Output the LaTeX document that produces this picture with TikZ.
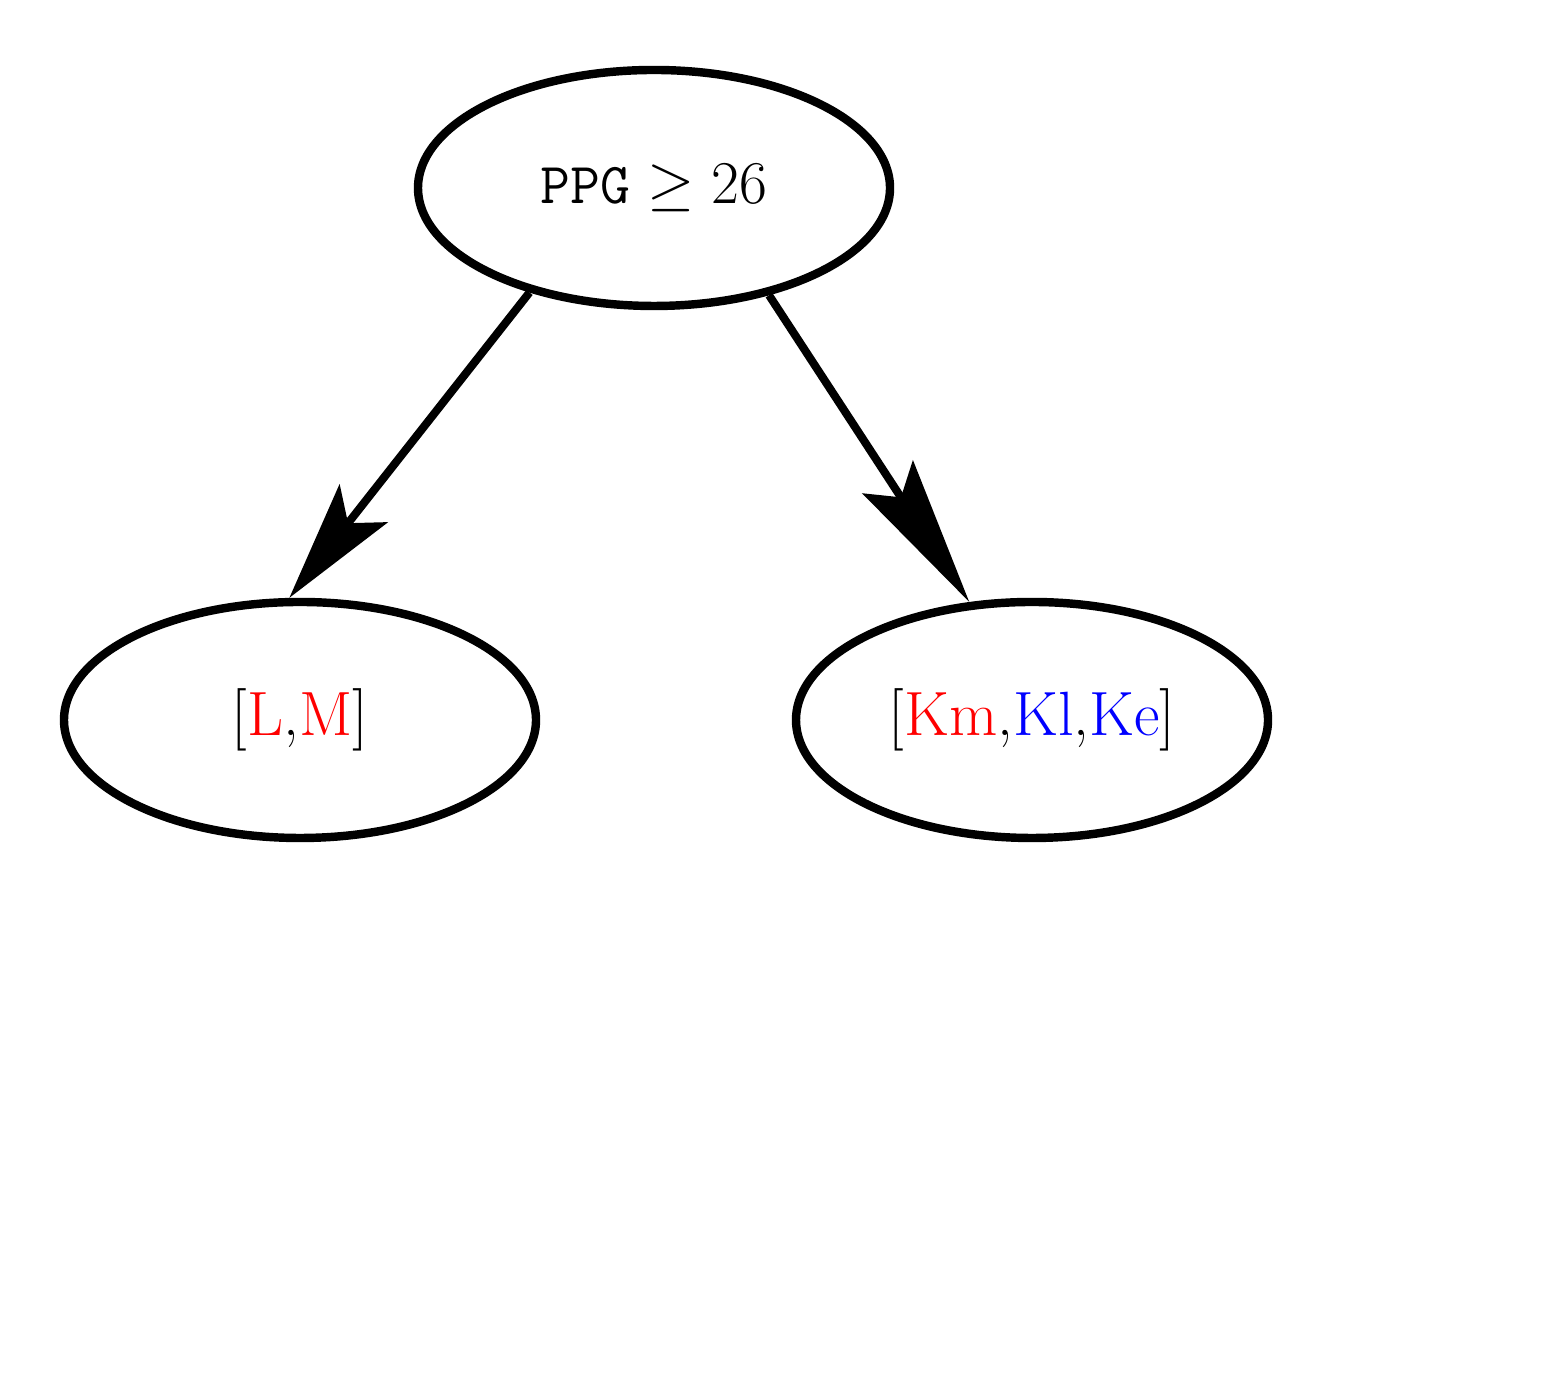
\documentclass[tikz,border=0pt]{standalone}
\usepackage{amsmath,amssymb}
\usepackage{xcolor}
\usetikzlibrary{arrows.meta,shapes.geometric}

\tikzset{
  split/.style={ellipse,draw,line width=2.4pt,minimum width=4.72cm,
    minimum height=2.36cm,inner sep=0pt,font=\fontsize{16.5}{19}\selectfont},
  leaf/.style={split,font=\fontsize{17.8}{21}\selectfont},
  branch/.style={line width=2.3pt}
}

\begin{document}
\begin{tikzpicture}
  \useasboundingbox (0,0) rectangle (15.54,13.75);

  % 根
  \node[split] (ppg) at (6.54,11.87) {\texttt{PPG} $\geq 26$};

  % 葉
  \node[leaf] (lm) at (3.00,6.55)
    {[\textcolor{red}{L},\textcolor{red}{M}]};
  \node[leaf] (kkk) at (10.32,6.55)
    {[\textcolor{red}{Km},\textcolor{blue}{Kl},\textcolor{blue}{Ke}]};

  % 分岐
  \draw[branch,-{Stealth[length=1.2cm,width=0.61cm,inset=0.25cm]}]
    (ppg.-140.5) -- (lm.95);
  \draw[branch,-{Stealth[length=1.49cm,width=0.6cm,inset=0.24cm]}]
    (ppg.-43) -- (kkk.118);
\end{tikzpicture}
\end{document}
